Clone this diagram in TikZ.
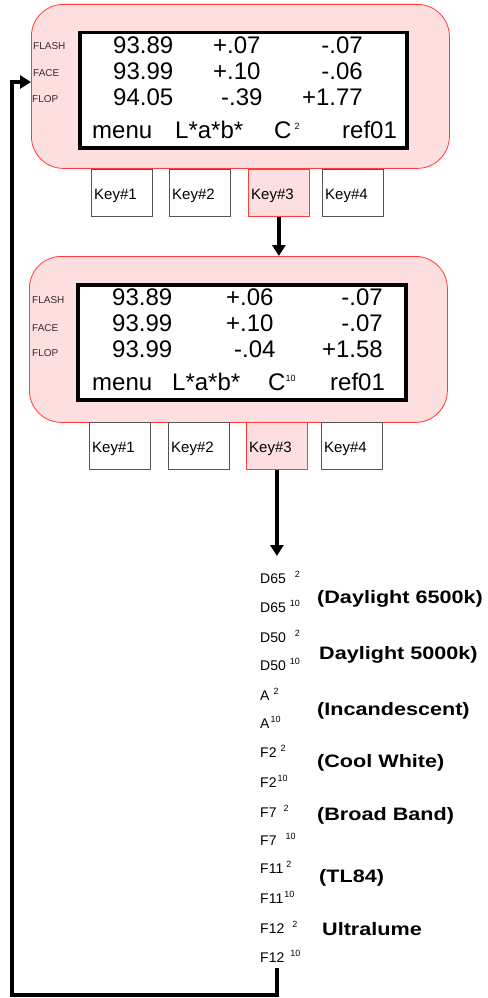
\documentclass[tikz,border=0pt]{standalone}
\usepackage{fontspec}
\setmainfont{Liberation Sans}
\usepackage{graphicx}
\usetikzlibrary{arrows.meta}
\definecolor{pinkfill}{HTML}{FDDFDF}
\definecolor{redline}{HTML}{FF3B3B}
\definecolor{keygray}{HTML}{555555}
\definecolor{lbl}{HTML}{3A2A2A}
\newcommand\lsup[2]{\hspace{#1pt}\raisebox{6pt}{\fontsize{9}{10}\selectfont #2}}
\newcommand\csup[2]{\hspace{#1pt}\raisebox{9pt}{\fontsize{9}{10}\selectfont #2}}
\begin{document}
\begin{tikzpicture}[x=1pt,y=-1pt,
  txt/.style={inner sep=0pt, anchor=base west},
  scr/.style={txt, font=\fontsize{24}{28}\selectfont},
  side/.style={txt, font=\fontsize{10}{12}\selectfont, text=lbl},
  panel/.style={draw=redline, fill=pinkfill, line width=0.8pt, rounded corners=32pt, anchor=north west, inner sep=0pt},
  screen/.style={draw=black, fill=white, line width=3.5pt, anchor=north west, inner sep=0pt},
  keybox/.style={draw=keygray, fill=white, line width=0.8pt, anchor=north west, inner sep=0pt, minimum width=61, minimum height=47},
  keysel/.style={keybox, draw=redline, fill=pinkfill},
  keytxt/.style={txt, font=\fontsize{15}{18}\selectfont},
  item/.style={txt, font=\fontsize{14}{16}\selectfont},
  biglbl/.style={txt, font=\fontsize{18}{20}\selectfont\bfseries},
  flow/.style={line width=4.5pt, -{Triangle[length=11pt,width=13pt]}},
]
\useasboundingbox (0,0) rectangle (487,998);

% ---------- panel A ----------
\node[panel, minimum width=418, minimum height=164] (panelA) at (31,4) {};
\node[screen, minimum width=327, minimum height=115] (screenA) at (78,31) {};
\node[side] (fa1) at (33,50) {FLASH};
\node[side] (fa2) at (33,77) {FACE};
\node[side] (fa3) at (32,102) {FLOP};
\node[scr] (a11) at (113,54) {93.89};
\node[scr] (a12) at (213,54) {+.07};
\node[scr, anchor=base east] (a13) at (363,54) {-.07};
\node[scr] (a21) at (113,79) {93.99};
\node[scr] (a22) at (213,79) {+.10};
\node[scr, anchor=base east] (a23) at (363,79) {-.06};
\node[scr] (a31) at (113,105) {94.05};
\node[scr] (a32) at (221,105) {-.39};
\node[scr, anchor=base east] (a33) at (363,105) {+1.77};
\node[scr] (am) at (92,138) {menu};
\node[scr] (al) at (175,138) {L*a*b*};
\node[scr] (ac) at (274,138) {C\csup{3}{2}};
\node[scr] (ar) at (342,138) {ref01};

\node[keybox] (k1a) at (91,169) {};
\node[keybox] (k2a) at (169,169) {};
\node[keysel] (k3a) at (248,169) {};
\node[keybox] (k4a) at (322,169) {};
\node[keytxt] (t1a) at (94,199) {Key\#1};
\node[keytxt] (t2a) at (172,199) {Key\#2};
\node[keytxt] (t3a) at (251,199) {Key\#3};
\node[keytxt] (t4a) at (325,199) {Key\#4};

% ---------- panel B ----------
\node[panel, minimum width=418, minimum height=166] (panelB) at (29,256) {};
\node[screen, minimum width=328, minimum height=115] (screenB) at (76,283) {};
\node[side] (fb1) at (32,303) {FLASH};
\node[side] (fb2) at (32,331) {FACE};
\node[side] (fb3) at (32,356) {FLOP};
\node[scr] (b11) at (112,305) {93.89};
\node[scr] (b12) at (226,305) {+.06};
\node[scr, anchor=base east] (b13) at (383,305) {-.07};
\node[scr] (b21) at (112,331) {93.99};
\node[scr] (b22) at (226,331) {+.10};
\node[scr, anchor=base east] (b23) at (383,331) {-.07};
\node[scr] (b31) at (112,357) {93.99};
\node[scr] (b32) at (234,357) {-.04};
\node[scr, anchor=base east] (b33) at (383,357) {+1.58};
\node[scr] (bm) at (92,390) {menu};
\node[scr] (bl) at (172,390) {L*a*b*};
\node[scr] (bc) at (268,390) {C\csup{0}{10}};
\node[scr] (br) at (330,390) {ref01};

\node[keybox] (k1b) at (89,422) {};
\node[keybox] (k2b) at (168,422) {};
\node[keysel] (k3b) at (246,422) {};
\node[keybox] (k4b) at (321,422) {};
\node[keytxt] (t1b) at (92,452) {Key\#1};
\node[keytxt] (t2b) at (171,452) {Key\#2};
\node[keytxt] (t3b) at (249,452) {Key\#3};
\node[keytxt] (t4b) at (324,452) {Key\#4};

% ---------- illuminant list ----------
\node[item] (i1) at (260,583) {D65\lsup{9}{2}};
\node[item] (i2) at (260,612) {D65\lsup{4}{10}};
\node[item] (i3) at (260,642) {D50\lsup{9}{2}};
\node[item] (i4) at (260,670) {D50\lsup{4}{10}};
\node[item] (i5) at (260,700) {A\lsup{4}{2}};
\node[item] (i6) at (260,728) {A\lsup{1}{10}};
\node[item] (i7) at (260,757) {F2\lsup{4}{2}};
\node[item] (i8) at (260,787) {F2\lsup{1}{10}};
\node[item] (i9) at (260,817) {F7\lsup{7}{2}};
\node[item] (i10) at (260,845) {F7\lsup{9}{10}};
\node[item] (i11) at (260,873) {F11\lsup{3}{2}};
\node[item] (i12) at (260,903) {F11\lsup{1}{10}};
\node[item] (i13) at (260,933) {F12\lsup{8}{2}};
\node[item] (i14) at (260,962) {F12\lsup{6}{10}};

\node[biglbl] (n1) at (317,603) {\scalebox{1.2}[1]{(Daylight 6500k)}};
\node[biglbl] (n2) at (319,659) {\scalebox{1.2}[1]{Daylight 5000k)}};
\node[biglbl] (n3) at (317,715) {\scalebox{1.2}[1]{(Incandescent)}};
\node[biglbl] (n4) at (317,767) {\scalebox{1.2}[1]{(Cool White)}};
\node[biglbl] (n5) at (317,820) {\scalebox{1.2}[1]{(Broad Band)}};
\node[biglbl] (n6) at (319,882) {\scalebox{1.2}[1]{(TL84)}};
\node[biglbl] (n7) at (322,935) {\scalebox{1.2}[1]{Ultralume}};

% ---------- connectors ----------
\coordinate (listtop) at (277,556);
\coordinate (listbot) at (277,968);
\coordinate (retbot) at (12,995);
\coordinate (retleft) at (12,82);
\draw[flow] (k3a.south) -- (k3a.south |- panelB.north);
\draw[flow] (k3b.south) -- (k3b.south |- listtop);
\draw[flow] (listbot) |- (retbot) -- (retleft) -- (panelA.west |- retleft);
\end{tikzpicture}
\end{document}
